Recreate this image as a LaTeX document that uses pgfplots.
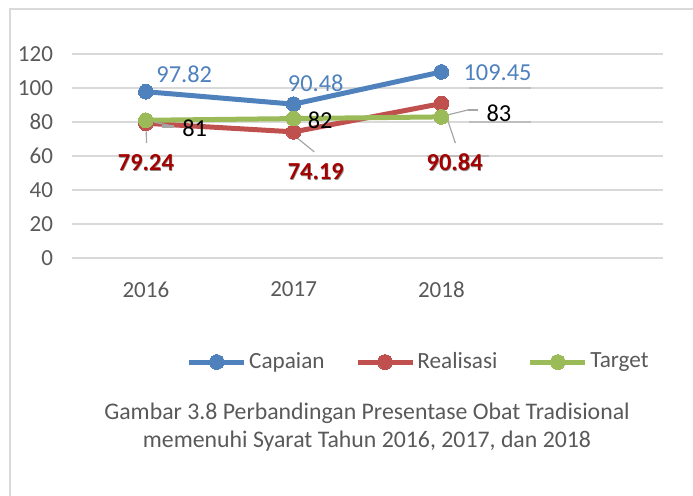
\documentclass[border=0pt]{standalone}
\usepackage{pgfplots}
\pgfplotsset{compat=1.18}
\usepackage{fontspec}
\setmainfont{Carlito}
\definecolor{cBlue}{HTML}{4F81BD}
\definecolor{cRed}{HTML}{C0504D}
\definecolor{cGreen}{HTML}{9BBB59}
\definecolor{cLblBlue}{HTML}{4F81BD}
\definecolor{cLblRed}{HTML}{A50000}
\definecolor{cGrid}{HTML}{D9D9D9}
\definecolor{cTxt}{HTML}{595959}
\definecolor{cLead}{HTML}{A6A6A6}
\newcommand{\shadowtxt}[1]{\makebox[0pt]{\textcolor{black!45}{\hspace{0.6pt}\raisebox{-0.6pt}{\textbf{#1}}}}\makebox[0pt]{\textcolor{cLblRed}{\textbf{#1}}}}
\begin{document}
\begin{tikzpicture}
\path[use as bounding box] (0,0) rectangle (346.5pt,248pt);
\draw[cGrid, line width=1pt] (5pt,0) -- (5pt,243.5pt) -- (346.5pt,243.5pt);
\begin{axis}[
  at={(36pt,119pt)}, anchor=south west,
  scale only axis, width=295.5pt, height=102pt,
  xmin=-0.5, xmax=3.5, ymin=0, ymax=120,
  xtick={0,1,2}, xticklabels={2016,2017,2018},
  ytick={0,20,...,120},
  ymajorgrids, grid style={cGrid, line width=0.8pt},
  axis line style={draw=none}, major tick length=0pt,
  tick label style={font=\fontsize{11.5}{13}\selectfont, text=cTxt},
  /pgf/number format/assume math mode=true,
  yticklabel style={xshift=-6pt},
  xticklabel style={yshift=-8.5pt},
  clip=false,
  legend columns=3,
  legend style={at={(0.587,-0.51)}, anchor=center, draw=none, fill=none,
    font=\fontsize{11.6}{13}\selectfont, text=cTxt,
    nodes={inner sep=1.2pt},
    /tikz/every even column/.append style={column sep=14pt},
    inner sep=0pt},
  legend cell align=left,
  legend image code/.code={\draw[#1, mark repeat=2, mark phase=2] plot coordinates {(0pt,0pt) (13.75pt,0pt) (27.5pt,0pt)};},
]
\draw[cGrid!70!gray, line width=1.2pt] (axis cs:2.19,100) -- (axis cs:2.61,100);
\draw[cGrid!70!gray, line width=1.2pt] (axis cs:2.19,80) -- (axis cs:2.61,80);
\draw[cGrid!70!gray, line width=1.2pt] (axis cs:1.90,60) -- (axis cs:2.32,60);
\addplot[cBlue, line width=2.5pt, mark=*, mark size=3.7pt, mark options={fill=cBlue, draw=cBlue, line width=0pt}] coordinates {(0,97.82) (1,90.48) (2,109.45)};
\addlegendentry{Capaian}
\addplot[cRed, line width=2.5pt, mark=*, mark size=3.7pt, mark options={fill=cRed, draw=cRed, line width=0pt}] coordinates {(0,79.24) (1,74.19) (2,90.84)};
\addlegendentry{Realisasi}
\addplot[cGreen, line width=2.5pt, mark=*, mark size=3.7pt, mark options={fill=cGreen, draw=cGreen, line width=0pt}] coordinates {(0,81) (1,82) (2,83)};
\addlegendentry{Target}
% leader lines
\draw[cLead, line width=0.6pt] (axis cs:0.005,67.6) -- (axis cs:0,78);
\draw[cLead, line width=0.6pt] (axis cs:0.02,80.5) -- (axis cs:0.19,77.5);
\draw[cLead, line width=1.4pt] (axis cs:0.11,77.5) -- (axis cs:0.19,77.5);
\draw[cLead, line width=0.6pt] (axis cs:1.14,62.4) -- (axis cs:0.99,73);
\draw[cLead, line width=0.6pt] (axis cs:2.04,84.1) -- (axis cs:2.18,87.1);
\draw[cLead, line width=1.4pt] (axis cs:2.18,87.1) -- (axis cs:2.25,87.1);
\draw[cLead, line width=0.6pt] (axis cs:2.095,67.6) -- (axis cs:2.007,90);
% data labels
\begin{scope}[every node/.style={font=\fontsize{12.2}{14}\selectfont, inner sep=0pt}]
\node[text=cLblBlue] at (axis cs:0.26,108.2) {97.82};
\node[text=cLblBlue] at (axis cs:1.15,102.9) {90.48};
\node[text=cLblBlue] at (axis cs:2.38,108.8) {109.45};
\node[text=black] at (axis cs:0.33,76.5) {81};
\node[text=black] at (axis cs:1.18,81.2) {82};
\node[text=black] at (axis cs:2.39,85.3) {83};
\node at (axis cs:0.0,55.9) {\shadowtxt{79.24}};
\node at (axis cs:1.15,50.6) {\shadowtxt{74.19}};
\node at (axis cs:2.09,55.9) {\shadowtxt{90.84}};
\end{scope}
\end{axis}
\node[align=center, text=cTxt, font=\fontsize{11.9}{14}\selectfont] at (183.5pt,34.5pt) {Gambar 3.8 Perbandingan Presentase Obat Tradisional\\memenuhi Syarat Tahun 2016, 2017, dan 2018};
\end{tikzpicture}
\end{document}
